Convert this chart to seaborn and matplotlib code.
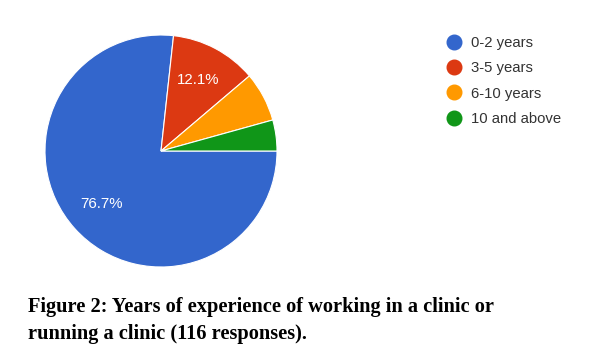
import matplotlib
matplotlib.use("Agg")
import matplotlib.pyplot as plt
from matplotlib.lines import Line2D
import seaborn as sns

# data
categories = ["0-2 years", "3-5 years", "6-10 years", "10 and above"]
counts = [89, 14, 8, 5]
colors = ["#3366CC", "#DC3912", "#FF9900", "#109618"]
caption = ["Figure 2: Years of experience of working in a clinic or",
           "running a clinic (116 responses)."]

sns.set_theme(style="white")
plt.rcParams['font.family'] = ['Liberation Sans', 'DejaVu Sans']

W, H = 597, 357
fig = plt.figure(figsize=(W / 100, H / 100), dpi=100)
fig.patch.set_facecolor("white")

# pie axes: centre (161, 151) px, radius 116 px
cx, cy, r = 161, 151, 116
ax = fig.add_axes([(cx - r) / W, (H - cy - r) / H, 2 * r / W, 2 * r / H])


def fmt(p):
    return "%.1f%%" % p if p > 10 else ""


wedges, texts, autotexts = ax.pie(
    counts, colors=colors, startangle=0, counterclock=False,
    autopct=fmt, pctdistance=0.69, radius=1,
    wedgeprops=dict(edgecolor="white", linewidth=0.8),
    textprops=dict(color="white", fontsize=10.8))
ax.set_xlim(-1, 1)
ax.set_ylim(-1, 1)
ax.set_aspect("auto")
ax.axis("off")

# legend
handles = [Line2D([], [], marker="o", linestyle="", markersize=10.5,
                  markerfacecolor=c, markeredgecolor=c) for c in colors]
fig.legend(handles, categories, loc="upper left",
           bbox_to_anchor=(445 / W, 1 - 36 / H), frameon=False,
           fontsize=10.7, labelcolor="#333333", handletextpad=0.55,
           labelspacing=0.76, handlelength=1.2, borderpad=0, borderaxespad=0)

# caption
for i, line in enumerate(caption):
    fig.text(28 / W, 1 - (312 + 27 * i) / H, line, fontsize=14.7,
             fontweight="bold", family="Liberation Serif", color="black",
             va="baseline", ha="left")

fig.savefig("out.png", dpi=100)
